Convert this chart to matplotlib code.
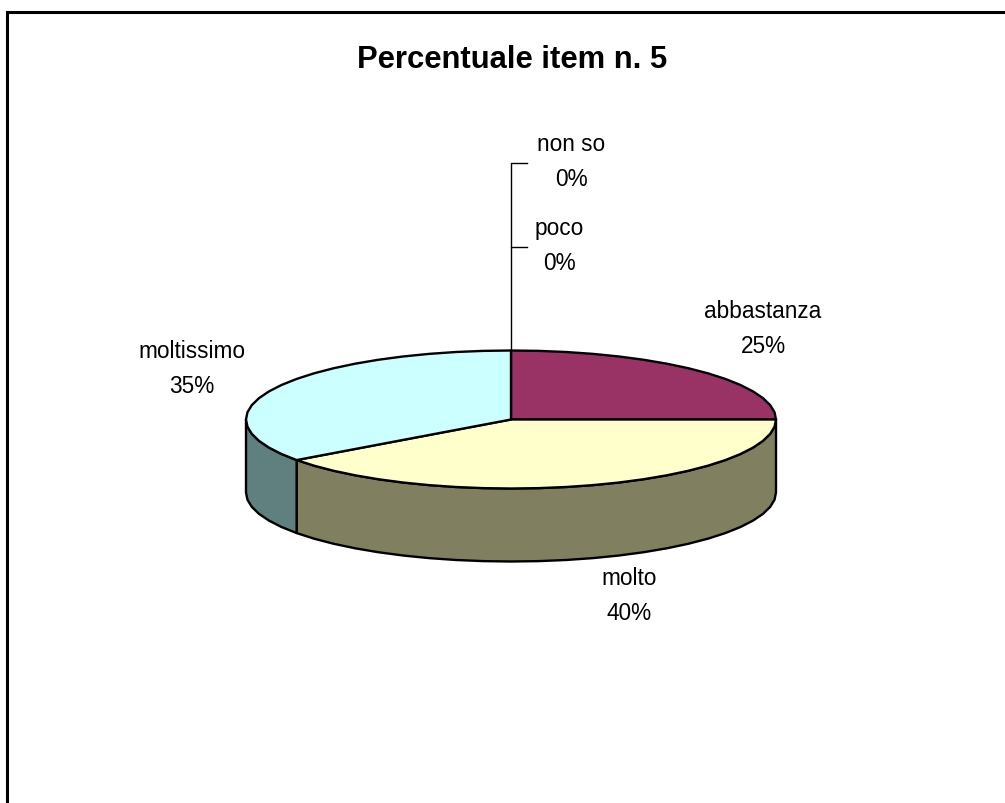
import numpy as np
import matplotlib
matplotlib.use("Agg")
import matplotlib.pyplot as plt

# Data
labels = ["abbastanza", "molto", "moltissimo", "poco", "non so"]
percents = [25, 40, 35, 0, 0]
top_colors = ["#993366", "#FFFFCC", "#CCFFFF"]
side_colors = ["#5C1F3D", "#808060", "#608080"]

W, H = 1005, 804
cx, cy = 511, 420.5
rx, ry = 265, 69
depth = 73

plt.rcParams["font.family"] = ["Liberation Sans", "DejaVu Sans"]

fig = plt.figure(figsize=(W / 100, H / 100), dpi=100)
ax = fig.add_axes([0, 0, 1, 1])
ax.set_xlim(0, W)
ax.set_ylim(H, 0)
ax.axis("off")


def rim(a0, a1):
    # angles clockwise from 12 o'clock, degrees; coarse steps give the faceted outline
    n = max(int((a1 - a0) / 6), 2) + 1
    t = np.radians(np.linspace(a0, a1, n))
    return cx + rx * np.sin(t), cy - ry * np.cos(t)


# chart frame: the reference only shows top and left edges
ax.plot([7, 7, W], [H, 13, 13], color="black", lw=2.2, solid_joinstyle="miter")

# slice boundaries from the values
edges = np.cumsum([0] + percents[:3]) * 3.6

# side wall, only the part of each slice facing the viewer (90..270 deg)
for i in range(3):
    a0, a1 = max(edges[i], 90), min(edges[i + 1], 270)
    if a1 <= a0:
        continue
    x, y = rim(a0, a1)
    xs = np.concatenate([x, x[::-1]])
    ys = np.concatenate([y, y[::-1] + depth])
    ax.fill(xs, ys, facecolor=side_colors[i], edgecolor="black", lw=1.7, joinstyle="round")

# top face
for i in range(3):
    x, y = rim(edges[i], edges[i + 1])
    xs = np.concatenate([[cx], x])
    ys = np.concatenate([[cy], y])
    ax.fill(xs, ys, facecolor=top_colors[i], edgecolor="black", lw=1.7, joinstyle="round")

# leader lines for the empty slices
ax.plot([511, 511, 527], [352, 248, 248], color="black", lw=1)
ax.plot([511, 511, 527], [248, 164, 164], color="black", lw=1)

ax.text(512, 60, "Percentuale item n. 5", fontsize=22.3, fontweight="bold", ha="center", va="center")

label_pos = [(763, 329), (629, 596), (192, 369), (559, 246), (571, 162)]
for name, pct, (lx, ly) in zip(labels, percents, label_pos):
    ax.text(lx, ly, f"{name}\n{pct}%", fontsize=16.3, ha="center", va="center", linespacing=1.65)

fig.savefig("out.png", dpi=100)
